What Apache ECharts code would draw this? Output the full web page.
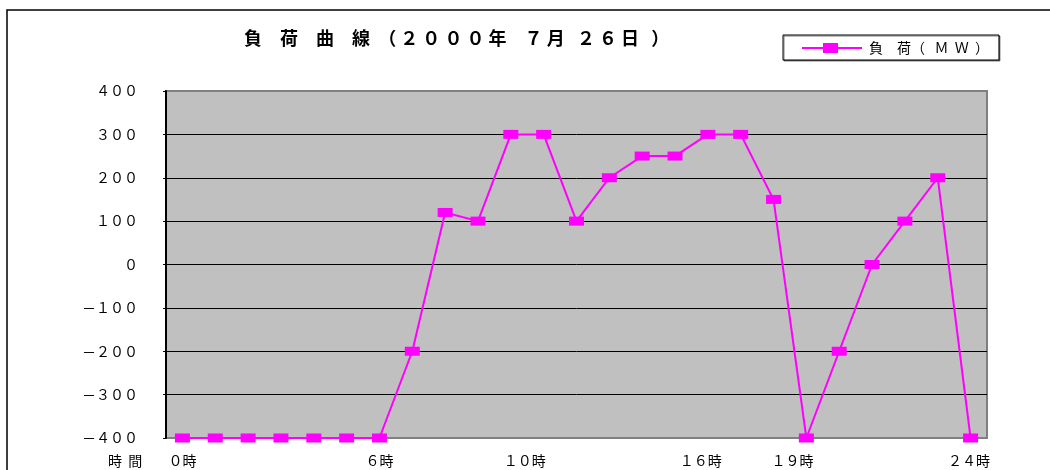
<!DOCTYPE html>
<html>
<head>
<meta charset="utf-8">
<script src="https://cdn.jsdelivr.net/npm/echarts@6/dist/echarts.min.js"></script>
<style>
html,body{margin:0;padding:0;background:#fff;}
#chart{width:1050px;height:470px;}
</style>
</head>
<body>
<div id="chart"></div>
<script>
// ---- data ----
const hours = ['0','1','2','3','4','5','6','7','8','9','10','11','12','13','14','15','16','17','18','19','20','21','22','23','24'];
const load = [-400,-400,-400,-400,-400,-400,-400,-200,120,100,300,300,100,200,250,250,300,300,150,-400,-200,0,100,200,-400];
const xTickLabels = {'0':'０時','6':'６時','10':'　　１０時','16':'１６時　','19':'１９時　　','24':'２４時 '};
const yTickLabels = {'400':'４００','300':'３００','200':'２００','100':'１００','0':'０','-100':'－１００','-200':'－２００','-300':'－３００','-400':'－４００'};
const titleText = '負　荷　曲　線  （ ２ ０ ０ ０ 年　７ 月   ２ ６ 日   ）';
const seriesName = '負　荷（   Ｍ  Ｗ  ）';
const xAxisTitle = '時  間';

const FONT = '"Noto Sans CJK JP", "Noto Sans", sans-serif';
const chart = echarts.init(document.getElementById('chart'), null, {renderer: 'canvas'});
chart.setOption({
  backgroundColor: '#ffffff',
  animation: false,
  textStyle: {fontFamily: FONT, color: '#000'},
  title: {
    text: titleText,
    left: 244, top: 29, padding: 0,
    textStyle: {fontFamily: FONT, fontSize: 18, fontWeight: 'bold', color: '#000'}
  },
  legend: {
    left: 783, top: 35,
    padding: [6, 10, 5, 19],
    borderColor: '#000', borderWidth: 1,
    shadowColor: 'rgba(0,0,0,0.5)', shadowOffsetX: 1, shadowOffsetY: 1, shadowBlur: 0,
    backgroundColor: '#fff',
    itemWidth: 60, itemHeight: 10,
    icon: 'path://M0,4 L21,4 L21,0 L36,0 L36,4 L60,4 L60,6 L36,6 L36,10 L21,10 L21,6 L0,6 Z',
    textStyle: {fontFamily: FONT, fontSize: 14, color: '#000', padding: [0,0,0,2]},
    data: [seriesName]
  },
  grid: {
    left: 166, right: 63, top: 91, bottom: 32,
    show: true, backgroundColor: '#C0C0C0', borderColor: '#808080', borderWidth: 2
  },
  xAxis: {
    type: 'category',
    data: hours,
    boundaryGap: true,
    axisLine: {show: false},
    axisTick: {show: false},
    axisLabel: {
      interval: 0, margin: 16, hideOverlap: false,
      fontFamily: FONT, fontSize: 14, color: '#000',
      formatter: v => xTickLabels[v] || ''
    },
    splitLine: {show: false}
  },
  yAxis: {
    type: 'value',
    min: -400, max: 400, interval: 100,
    axisLine: {show: true, lineStyle: {color: '#000', width: 2}},
    axisTick: {show: true, length: 3, lineStyle: {color: '#000'}},
    axisLabel: {
      margin: 28, fontFamily: FONT, fontSize: 14, color: '#000',
      formatter: v => yTickLabels[String(v)] || String(v)
    },
    splitLine: {show: true, showMinLine: false, showMaxLine: false, lineStyle: {color: '#000', width: 1}}
  },
  series: [{
    name: seriesName,
    type: 'line',
    data: load,
    clip: false,
    symbol: 'rect',
    symbolSize: [15, 9],
    showAllSymbol: true,
    lineStyle: {color: '#FF00FF', width: 2},
    itemStyle: {color: '#FF00FF'}
  }],
  graphic: [
    {type: 'rect', silent: true, z: 100,
     shape: {x: 7, y: 10, width: 1100, height: 1000},
     style: {fill: null, stroke: '#000', lineWidth: 1.5}},
    {type: 'text', silent: true, left: 108, top: 454,
     style: {text: xAxisTitle, font: '14px ' + FONT, fill: '#000'}}
  ]
});
</script>
</body>
</html>
